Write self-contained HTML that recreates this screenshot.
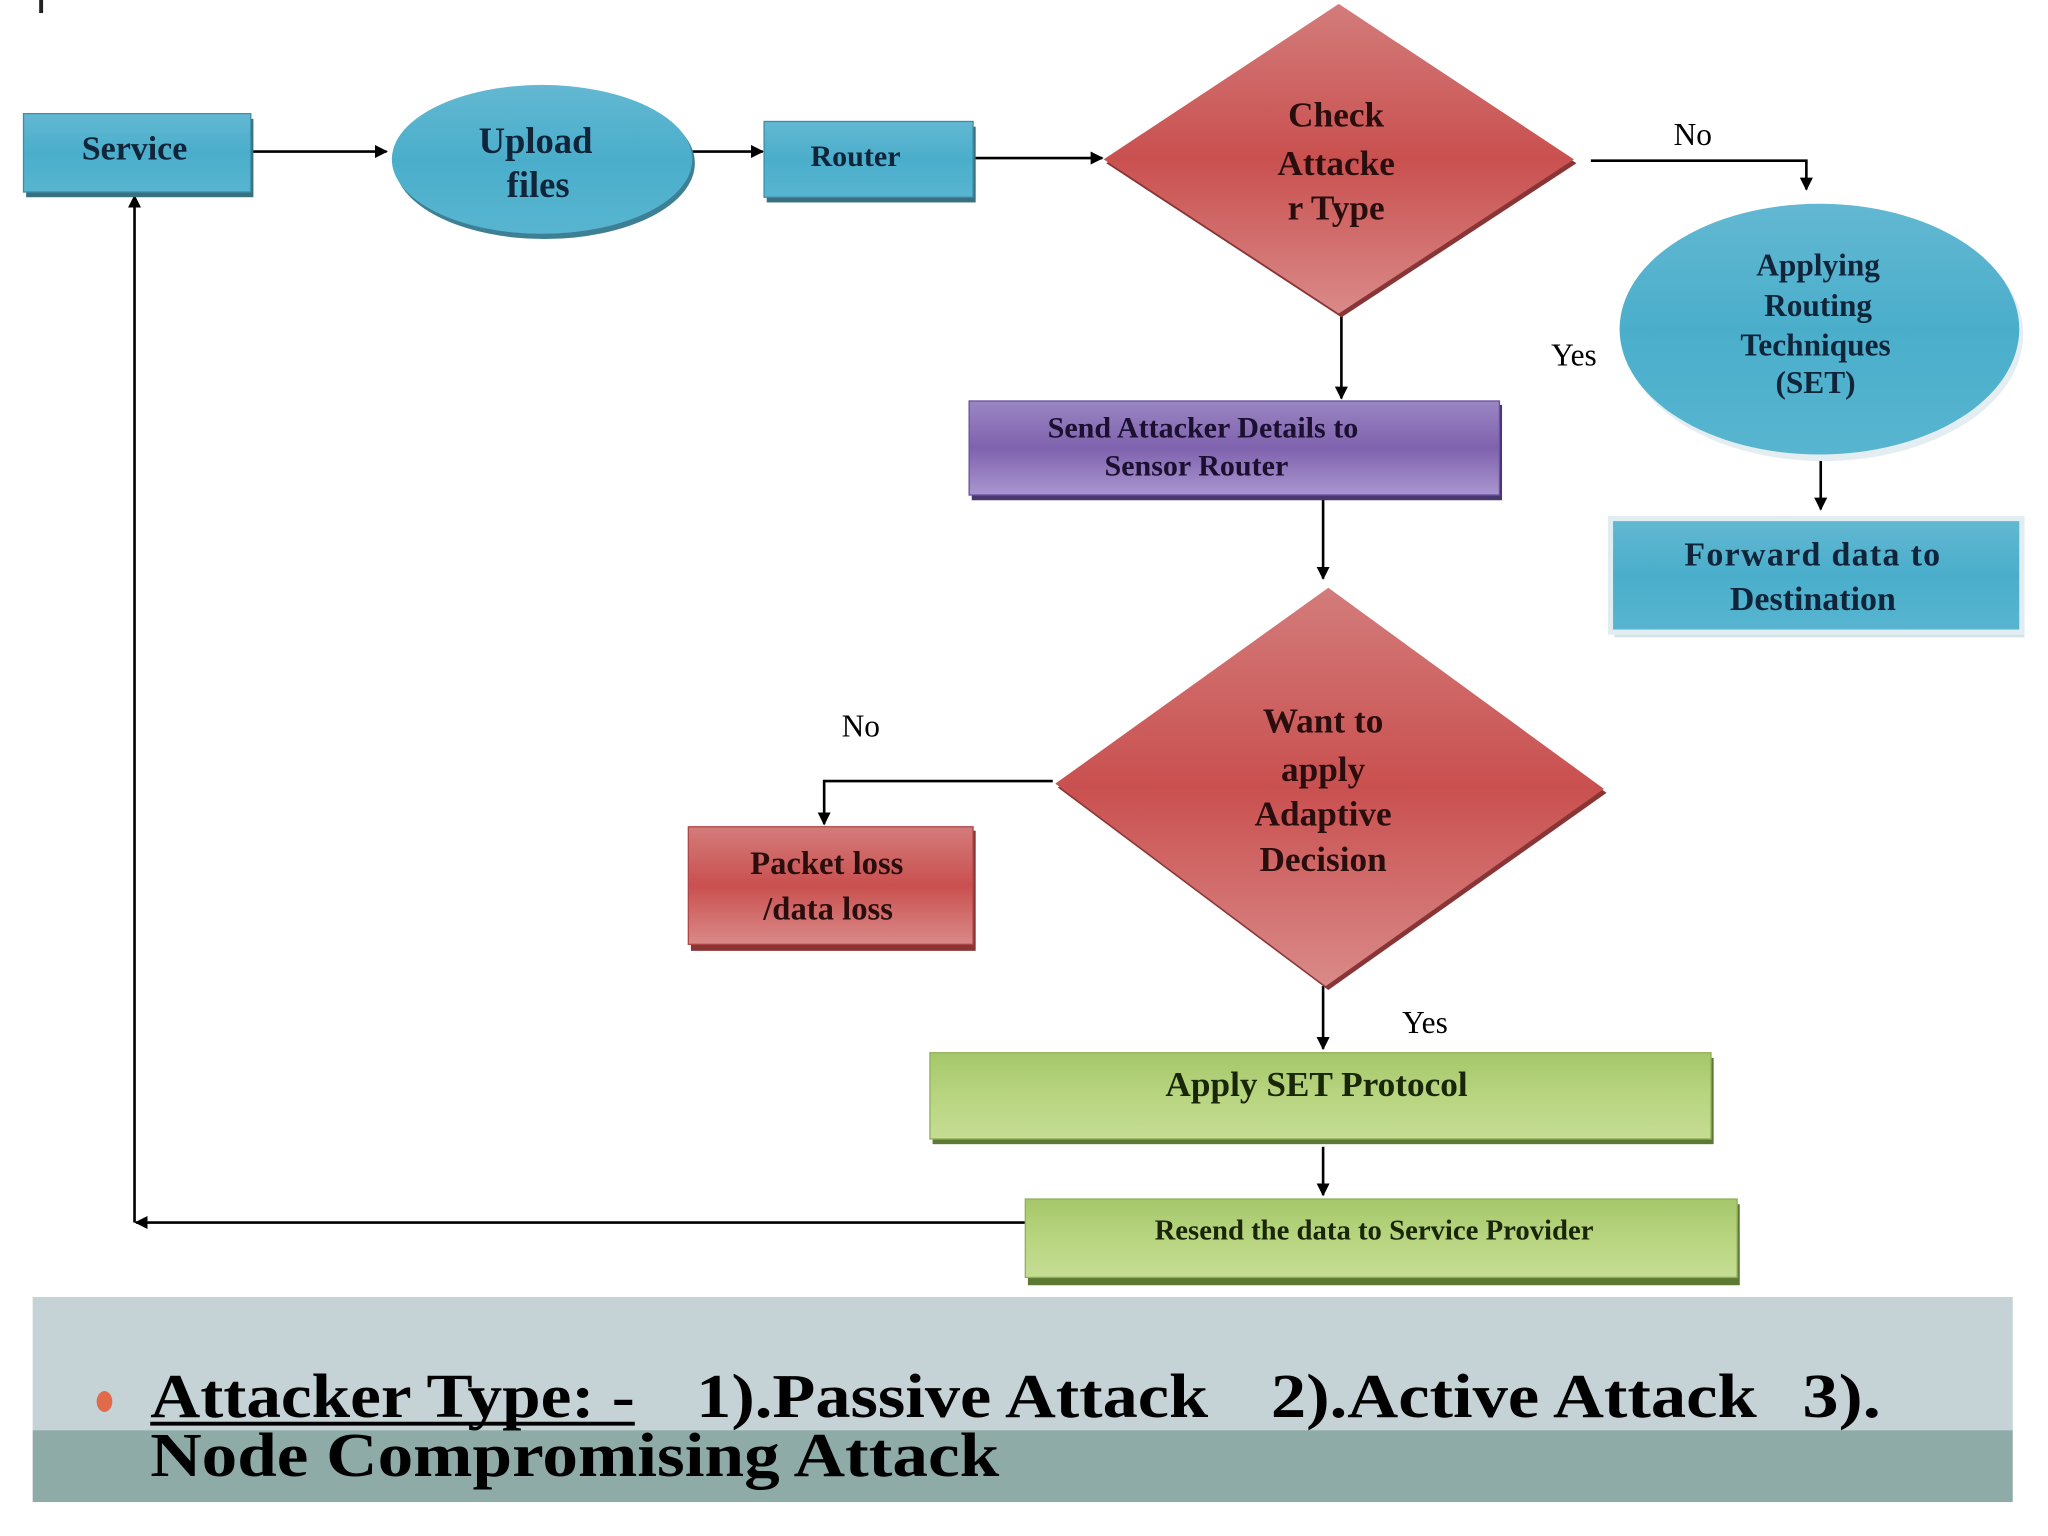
<!DOCTYPE html>
<html><head><meta charset="utf-8"><style>
html,body{margin:0;padding:0;background:#fff;}
svg{display:block;}
text{font-family:"Liberation Serif",serif;font-weight:bold;}
</style></head><body>
<svg width="2048" height="1536" viewBox="0 0 1568 1176" preserveAspectRatio="none" xmlns="http://www.w3.org/2000/svg">
<defs>
<marker id="a" markerWidth="10" markerHeight="10" refX="9" refY="5" orient="auto" markerUnits="userSpaceOnUse"><path d="M0,0 L10,5 L0,10 z" fill="#000"/></marker>
<linearGradient id="blue" x1="0" y1="0" x2="0" y2="1"><stop offset="0" stop-color="#63b8d2"/><stop offset="0.5" stop-color="#4aaecb"/><stop offset="1" stop-color="#58b5d0"/></linearGradient>
<linearGradient id="red" x1="0" y1="0" x2="0" y2="1"><stop offset="0" stop-color="#d37c7b"/><stop offset="0.5" stop-color="#c9504f"/><stop offset="1" stop-color="#d98a89"/></linearGradient>
<linearGradient id="purp" x1="0" y1="0" x2="0" y2="1"><stop offset="0" stop-color="#9a86c3"/><stop offset="0.5" stop-color="#7f62ae"/><stop offset="1" stop-color="#a996cf"/></linearGradient>
<linearGradient id="grn" x1="0" y1="0" x2="0" y2="1"><stop offset="0" stop-color="#a5c76a"/><stop offset="0.5" stop-color="#b8d580"/><stop offset="1" stop-color="#c5dd94"/></linearGradient>
</defs>
<rect x="30" y="0" width="3" height="10" fill="#222"/>
<g stroke="#000" stroke-width="2" fill="none">
<line x1="192" y1="116" x2="296" y2="116" marker-end="url(#a)"/>
<line x1="530" y1="116" x2="584" y2="116" marker-end="url(#a)"/>
<line x1="745" y1="121" x2="844" y2="121" marker-end="url(#a)"/>
<polyline points="1218,123 1383,123 1383,145" marker-end="url(#a)"/>
<line x1="1027" y1="240" x2="1027" y2="305" marker-end="url(#a)"/>
<line x1="1394" y1="352" x2="1394" y2="390" marker-end="url(#a)"/>
<line x1="1013" y1="380" x2="1013" y2="443" marker-end="url(#a)"/>
<polyline points="806,598 631,598 631,631" marker-end="url(#a)"/>
<line x1="1013" y1="755" x2="1013" y2="803" marker-end="url(#a)"/>
<line x1="1013" y1="878" x2="1013" y2="915" marker-end="url(#a)"/>
<line x1="785" y1="936" x2="104" y2="936" marker-end="url(#a)"/>
<line x1="103" y1="936" x2="103" y2="150" marker-end="url(#a)"/>
</g>
<g fill="#3a6f80">
<rect x="20" y="91" width="174" height="60"/>
<rect x="587" y="97" width="160" height="58"/>
<rect x="1236" y="401" width="314" height="87" fill="#d6e2e8"/>
</g>
<rect x="18" y="87" width="174" height="60" fill="url(#blue)" stroke="#3c8ea8"/>
<text x="103" y="122" font-size="26" text-anchor="middle" fill="#10243a">Service</text>
<ellipse cx="417" cy="125" rx="115" ry="58" fill="#3d7f95"/>
<ellipse cx="415" cy="122" rx="115" ry="57" fill="url(#blue)"/>
<text x="410" y="117" font-size="28" text-anchor="middle" fill="#10243a">Upload</text>
<text x="412" y="151" font-size="28" text-anchor="middle" fill="#10243a">files</text>
<rect x="585" y="93" width="160" height="58" fill="url(#blue)" stroke="#3c8ea8"/>
<text x="655" y="127" font-size="23" text-anchor="middle" fill="#10243a">Router</text>
<polygon points="1027,6 1207,125 1027,243 847,125" fill="#8a3535"/>
<polygon points="1025,3 1205,122 1025,240 845,122" fill="url(#red)"/>
<g font-size="27" text-anchor="middle" fill="#2a0e0e">
<text x="1023" y="97">Check</text><text x="1023" y="134">Attacke</text><text x="1023" y="168">r Type</text>
</g>
<text x="1296" y="111" font-size="24" text-anchor="middle" style="font-weight:normal">No</text>
<text x="1205" y="280" font-size="24" text-anchor="middle" style="font-weight:normal">Yes</text>
<ellipse cx="1396" cy="256" rx="153" ry="97" fill="#e4eef2"/>
<ellipse cx="1393" cy="252" rx="153" ry="96" fill="url(#blue)"/>
<g font-size="24" text-anchor="middle" fill="#10243a">
<text x="1392" y="211">Applying</text><text x="1392" y="242">Routing</text><text x="1390" y="272">Techniques</text><text x="1390" y="301">(SET)</text>
</g>
<rect x="1233" y="397" width="315" height="87" fill="url(#blue)" stroke="#e0eef2" stroke-width="4"/>
<text x="1388" y="433" font-size="26" text-anchor="middle" fill="#10243a" letter-spacing="1">Forward data to</text>
<text x="1388" y="467" font-size="26" text-anchor="middle" fill="#10243a">Destination</text>
<rect x="744" y="310" width="406" height="73" fill="#4a3670"/>
<rect x="742" y="307" width="406" height="72" fill="url(#purp)" stroke="#6a52a0"/>
<text x="921" y="335" font-size="23" text-anchor="middle" fill="#1b1030">Send Attacker Details to</text>
<text x="916" y="364" font-size="23" text-anchor="middle" fill="#1b1030">Sensor Router</text>
<polygon points="1019,453 1230,607 1017,758 810,603" fill="#8a3535"/>
<polygon points="1017,450 1228,604 1015,755 808,600" fill="url(#red)"/>
<g font-size="27" text-anchor="middle" fill="#2a0e0e">
<text x="1013" y="561">Want to</text><text x="1013" y="598">apply</text><text x="1013" y="632">Adaptive</text><text x="1013" y="667">Decision</text>
</g>
<text x="659" y="564" font-size="24" text-anchor="middle" style="font-weight:normal">No</text>
<rect x="529" y="636" width="218" height="92" fill="#8a3535"/>
<rect x="527" y="633" width="218" height="90" fill="url(#red)" stroke="#b04545"/>
<text x="633" y="669" font-size="25" text-anchor="middle" fill="#2a0e0e">Packet loss</text>
<text x="634" y="704" font-size="25" text-anchor="middle" fill="#2a0e0e">/data loss</text>
<text x="1091" y="791" font-size="24" text-anchor="middle" style="font-weight:normal">Yes</text>
<rect x="714" y="810" width="598" height="66" fill="#5d7a34"/>
<rect x="712" y="806" width="598" height="66" fill="url(#grn)" stroke="#8fb05a"/>
<text x="1008" y="839" font-size="27" text-anchor="middle" fill="#1a2608">Apply SET Protocol</text>
<rect x="787" y="922" width="545" height="62" fill="#5d7a34"/>
<rect x="785" y="918" width="545" height="60" fill="url(#grn)" stroke="#8fb05a"/>
<text x="1052" y="949" font-size="22" text-anchor="middle" fill="#1a2608">Resend the data to Service Provider</text>
<rect x="25" y="993" width="1516" height="102" fill="#c6d3d6"/>
<rect x="25" y="1095" width="1516" height="55" fill="#8eaba8"/>
<ellipse cx="80" cy="1073" rx="6" ry="8" fill="#e06a4a"/>
<g font-size="48" fill="#000">
<text x="115" y="1085" textLength="371" lengthAdjust="spacingAndGlyphs">Attacker Type: -</text>
<text x="533" y="1085" textLength="392" lengthAdjust="spacingAndGlyphs">1).Passive Attack</text>
<text x="973" y="1085" textLength="372" lengthAdjust="spacingAndGlyphs">2).Active Attack</text>
<text x="1380" y="1085" textLength="60" lengthAdjust="spacingAndGlyphs">3).</text>
<text x="115" y="1130" textLength="650" lengthAdjust="spacingAndGlyphs">Node Compromising Attack</text>
</g>
<line x1="115" y1="1090" x2="486" y2="1090" stroke="#000" stroke-width="3"/>
</svg>
</body></html>
